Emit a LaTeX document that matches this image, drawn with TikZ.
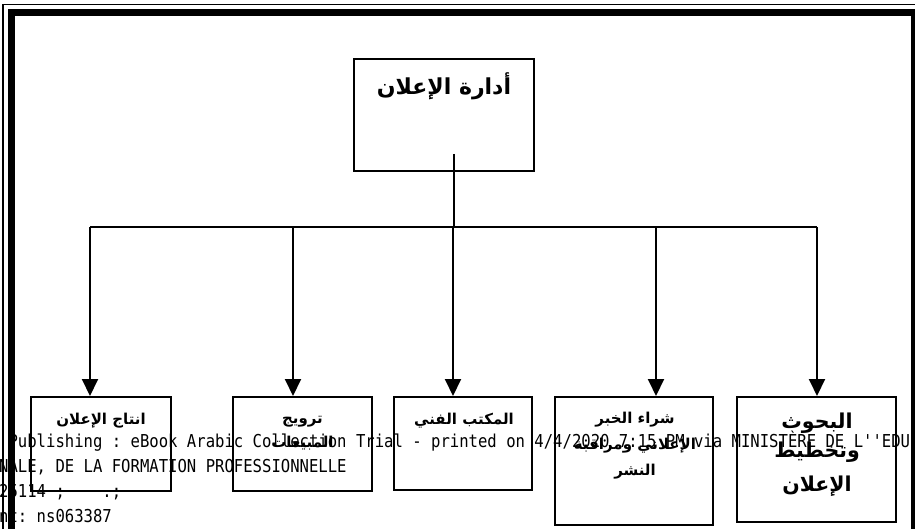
\documentclass[tikz,border=0pt]{standalone}
\usepackage{fontspec}
\usepackage{graphicx}
\usetikzlibrary{arrows.meta}
\TeXXeTstate=1
\newfontfamily\arabicfont[Script=Arabic]{DejaVu Sans}
\newfontfamily\wmfont{DejaVu Sans Mono}
\newcommand\artext[1]{{\arabicfont\bfseries\beginR #1\endR}}
\newcommand\stamptext[1]{\scalebox{1}[1.14]{#1}}

\tikzset{
  unitbox/.style={draw, line width=2pt, inner sep=0pt, fill=none},
  lab/.style={anchor=base, inner sep=0pt, font=\fontsize{15}{18}\selectfont},
  biglab/.style={anchor=base, inner sep=0pt, font=\fontsize{20.5}{24}\selectfont},
  titlelab/.style={anchor=base, inner sep=0pt, font=\fontsize{22}{26}\selectfont},
  link/.style={line width=2pt},
  arrowlink/.style={line width=2pt, -{Triangle[width=16pt,length=17pt]}},
  wm/.style={anchor=base west, inner sep=0pt, font=\wmfont\fontsize{15.6}{18}\selectfont\frenchspacing}
}

\begin{document}
\begin{tikzpicture}[x=1pt, y=-1pt]
\useasboundingbox (0,0) rectangle (915,529);
\clip (0,0) rectangle (915,529);

% page frame: thin outer rule and heavy inner band
\draw[line width=1.5pt] (3,600) -- (3,4.75) -- (940,4.75);
\draw[line width=7pt] (11.5,600) -- (11.5,12.5) -- (914.5,12.5) -- (914.5,600);

% boxes
\node[unitbox, minimum width=180pt, minimum height=112pt] (top) at (444,115) {};
\node[unitbox, minimum width=140pt, minimum height=94pt] (b1) at (101,444) {};
\node[unitbox, minimum width=139pt, minimum height=94pt] (b2) at (302.5,444) {};
\node[unitbox, minimum width=138pt, minimum height=93pt] (b3) at (463,443.5) {};
\node[unitbox, minimum width=158pt, minimum height=128pt] (b4) at (634,461) {};
\node[unitbox, minimum width=159pt, minimum height=125pt] (b5) at (816.5,459.5) {};

% labels
\node[titlelab] (ttop) at (444,95) {\artext{أدارة الإعلان}};
\node[lab] (t1) at (101,424) {\artext{انتاج الإعلان}};
\node[lab] (t2a) at (302.5,423) {\artext{ترويج}};
\node[lab] (t2b) at (302.5,447) {\artext{المبيعات}};
\node[lab] (t3) at (464,424) {\artext{المكتب الفني}};
\node[lab] (t4a) at (635,423) {\artext{شراء الخبر}};
\node[lab] (t4b) at (635,449) {\artext{الإعلاني ومراقبة}};
\node[lab] (t4c) at (635,475) {\artext{النشر}};
\node[biglab] (t5a) at (817,428) {\artext{البحوث}};
\node[biglab] (t5b) at (817,457) {\artext{وتخطيط}};
\node[biglab] (t5c) at (817,491) {\artext{الإعلان}};

% connectors
\coordinate (stem) at (454,154);
\coordinate (hub) at (454,227);
\coordinate (bus1) at (90,227);
\coordinate (bus2) at (293,227);
\coordinate (bus3) at (453,227);
\coordinate (bus4) at (656,227);
\coordinate (bus5) at (817,227);

\draw[link] (stem) -- (hub);
\draw[link] (bus1) -- (bus5);
\draw[arrowlink] (bus1) -- (bus1 |- b1.north);
\draw[arrowlink] (bus2) -- (bus2 |- b2.north);
\draw[arrowlink] (bus3) -- (bus3 |- b3.north);
\draw[arrowlink] (bus4) -- (bus4 |- b4.north);
\draw[arrowlink] (bus5) -- (bus5 |- b5.north);

% stamped footer text
\node[wm] (w1) at (-48,447.5) {\stamptext{EBSCO Publishing : eBook Arabic Collection Trial - printed on 4/4/2020 7:15 PM via MINISTÈRE DE L'\kern0pt'EDUCATION}};
\node[wm] (w2) at (-48,472.5) {\stamptext{NATIONALE, DE LA FORMATION PROFESSIONNELLE}};
\node[wm] (w3) at (-48,497.5) {\stamptext{AN: 225114 ; ~~~.;}};
\node[wm] (w4) at (-48,522.5) {\stamptext{Account: ns063387}};
\end{tikzpicture}
\end{document}
